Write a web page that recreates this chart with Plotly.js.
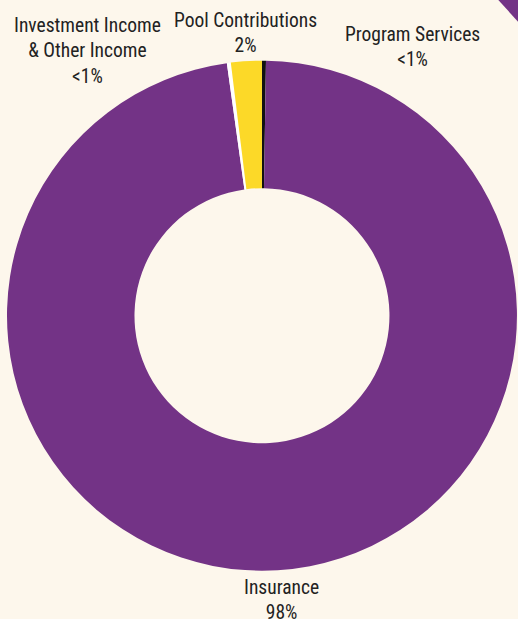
<!DOCTYPE html>
<html>
<head>
<meta charset="utf-8">
<script src="https://cdn.plot.ly/plotly-3.0.1.min.js"></script>
<style>html,body{margin:0;padding:0;background:#fdf7ec;overflow:hidden;}</style>
</head>
<body>
<div id="chart" style="width:518px;height:619px;"></div>
<script>
// Data (clockwise from 12 o'clock)
const categories = ["Program Services", "Insurance", "Investment Income & Other Income", "Pool Contributions"];
const values = [0.25, 97.55, 0.25, 1.95];
const sliceColors = ["#111111", "#733386", "#ffffff", "#fcd928"];
const labelTexts = ["Investment Income<br>& Other Income<br><1%", "Pool Contributions<br>2%", "Program Services<br><1%", "Insurance<br>98%"];

const font = {family: "Roboto Condensed, Liberation Sans Narrow, sans-serif", size: 19.5, color: "#222222", weight: 400};

const trace = {
  type: "pie",
  labels: categories,
  values: values,
  sort: false,
  direction: "clockwise",
  rotation: 0,
  hole: 0.5,
  textinfo: "none",
  hoverinfo: "label+percent",
  marker: {colors: sliceColors, line: {width: 0}},
  domain: {x: [0.0135, 0.998], y: [0.077, 0.903]},
  showlegend: false
};

const layout = {
  width: 518,
  height: 619,
  margin: {l: 0, r: 0, t: 0, b: 0},
  paper_bgcolor: "#fdf7ec",
  plot_bgcolor: "#fdf7ec",
  showlegend: false,
  shapes: [{
    type: "path", xref: "paper", yref: "paper",
    path: "M 0.962 1 L 1 1 L 1 0.965 Z",
    fillcolor: "#733386", line: {width: 0}
  }],
  annotations: [
    {text: labelTexts[0], x: 87/518, y: 1 - 51/619, xref: "paper", yref: "paper", showarrow: false, font: font, align: "center", xanchor: "center", yanchor: "middle"},
    {text: labelTexts[1], x: 245/518, y: 1 - 33/619, xref: "paper", yref: "paper", showarrow: false, font: font, align: "center", xanchor: "center", yanchor: "middle"},
    {text: labelTexts[2], x: 412/518, y: 1 - 47/619, xref: "paper", yref: "paper", showarrow: false, font: font, align: "center", xanchor: "center", yanchor: "middle"},
    {text: labelTexts[3], x: 281/518, y: 1 - 600/619, xref: "paper", yref: "paper", showarrow: false, font: font, align: "center", xanchor: "center", yanchor: "middle"}
  ]
};

Plotly.newPlot("chart", [trace], layout, {displayModeBar: false, staticPlot: true});
</script>
</body>
</html>
